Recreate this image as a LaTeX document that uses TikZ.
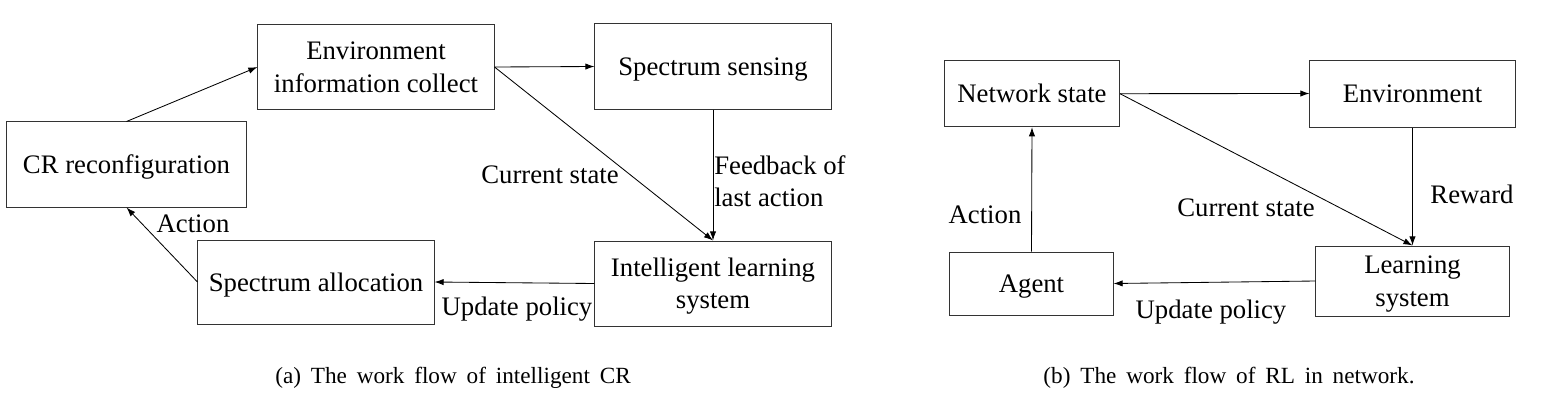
\documentclass[tikz,border=0pt]{standalone}
\usepackage{fontspec}
\setmainfont{Liberation Serif}
\usetikzlibrary{positioning, arrows.meta, calc}

\newcommand{\capsp}{\spaceskip=7pt plus 0pt minus 0pt\relax}

\tikzset{
	blk/.style={draw=black!80, line width=0.7pt, align=center, inner sep=0pt, text depth=0pt, font=\fontsize{19}{23}\selectfont},
	lbl/.style={inner sep=0pt, font=\fontsize{19}{23}\selectfont},
	captxt/.style={inner sep=0pt, font=\fontsize{16.5}{19}\selectfont},
	flow/.style={-{Latex[length=6.5pt, width=4.5pt]}, line width=0.6pt},
}

\begin{document}
\begin{tikzpicture}[x=0.025cm, y=-0.025cm]
	\useasboundingbox (0,0) rectangle (1560,408);
	% (a) intelligent CR
	\node[blk, minimum width=5.9cm, minimum height=2.1cm] (envcol) at (376,67) {Environment\\information collect};
	\node[blk, minimum width=5.9cm, minimum height=2.125cm] (sense) at (713,66.5) {Spectrum sensing};
	\node[blk, minimum width=5.975cm, minimum height=2.125cm] (crcfg) at (126.5,164.5) {CR reconfiguration};
	\node[blk, minimum width=5.9cm, minimum height=2.1cm] (alloc) at (316,282) {Spectrum allocation};
	\node[blk, minimum width=5.9cm, minimum height=2.125cm] (ils) at (713,283.5) {Intelligent learning\\system};
	\draw[flow] (crcfg.north) -- (envcol.west);
	\draw[flow] (envcol.east) -- (sense.west);
	\draw[flow] (envcol.east) -- (ils.north);
	\draw[flow] (sense.south) -- (ils.north);
	\draw[flow] (ils.west) -- (alloc.east);
	\draw[flow] (alloc.west) -- (crcfg.south);
	\node[lbl] (cstA) at (550,175) {Current state};
	\node[lbl, align=left, anchor=west] (fbA) at (714,181) {Feedback of\\last action};
	\node[lbl] (updA) at (517,309) {Update policy};
	\node[lbl] (actA) at (193,224) {Action};
	\node[captxt] (capA) at (453,378) {\capsp (a) The work flow of intelligent CR};
	% (b) RL in network
	\node[blk, minimum width=4.375cm, minimum height=1.65cm] (net) at (1032,93.7) {Network state};
	\node[blk, minimum width=5.125cm, minimum height=1.675cm] (envr) at (1412.5,93.5) {Environment};
	\node[blk, minimum width=4.075cm, minimum height=1.575cm] (agent) at (1031.5,283.5) {Agent};
	\node[blk, minimum width=4.825cm, minimum height=1.75cm] (learn) at (1412.5,281) {Learning\\system};
	\draw[flow] (net.east) -- (envr.west);
	\draw[flow] (net.east) -- (learn.north);
	\draw[flow] (envr.south) -- (learn.north);
	\draw[flow] (learn.west) -- (agent.east);
	\draw[flow] (agent.north) -- (net.south);
	\node[lbl] (cstB) at (1246,208) {Current state};
	\node[lbl] (rwdB) at (1472,194) {Reward};
	\node[lbl] (updB) at (1211,312) {Update policy};
	\node[lbl] (actB) at (985,215) {Action};
	\node[captxt] (capB) at (1229,378) {\capsp (b) The work flow of RL in network.};
\end{tikzpicture}
\end{document}
